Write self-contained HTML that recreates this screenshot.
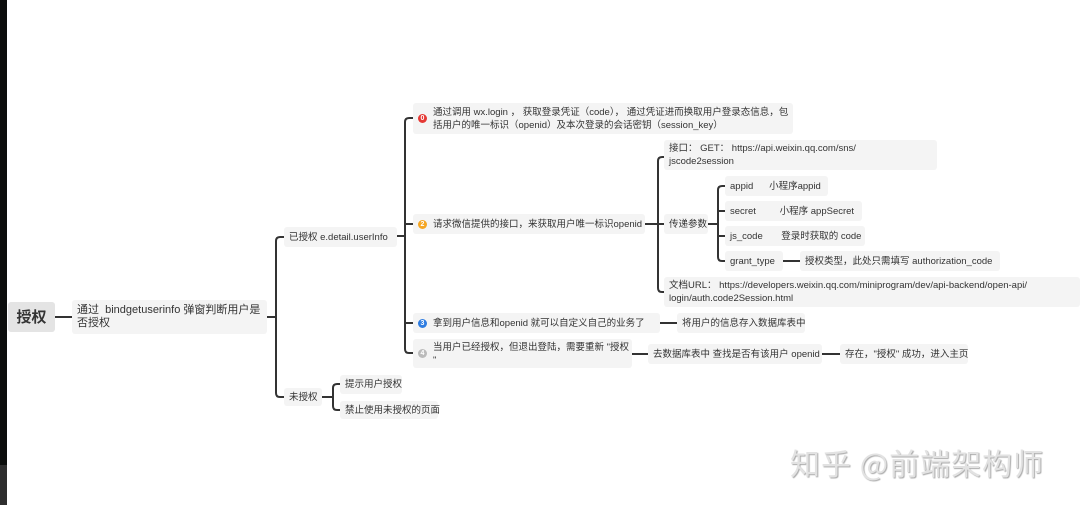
<!DOCTYPE html>
<html><head><meta charset="utf-8"><style>
body{margin:0;width:1080px;height:505px;overflow:hidden;background:#fff;position:relative;font-family:"Liberation Sans","Noto Sans CJK SC",sans-serif;color:#333}
.b{position:absolute;background:#f4f4f4;border-radius:3px;font-size:9.5px;line-height:13px;padding:0 5px;box-sizing:border-box;display:flex;align-items:center;white-space:nowrap}
.ic{display:inline-block;width:9px;height:9px;border-radius:50%;color:#fff;font-size:7px;line-height:9px;text-align:center;margin-right:6px;flex:none;font-weight:bold}
svg{position:absolute;left:0;top:0}
</style></head><body>
<div style="position:absolute;left:0;top:0;width:7px;height:465px;background:#0b0d0c"></div>
<div style="position:absolute;left:0;top:465px;width:7px;height:40px;background:#2e2e2e"></div>
<svg width="1080" height="505" fill="none" stroke="#333" stroke-width="2">
<path d="M55 317H72"/>
<path d="M267 317H276"/>
<path d="M284 237H280Q276 237 276 241V393Q276 397 280 397H284"/>
<path d="M397 236H405"/>
<path d="M413 118H409Q405 118 405 122V349Q405 353 409 353H413"/>
<path d="M405 224H413M405 323H413"/>
<path d="M322 397H333"/>
<path d="M340 384H337Q333 384 333 388V406Q333 410 337 410H340"/>
<path d="M645 224H664"/>
<path d="M664 157H662Q658 157 658 161V288Q658 292 662 292H664"/>
<path d="M708 224H718"/>
<path d="M725 186H722Q718 186 718 190V257Q718 261 722 261H725M718 211H725M718 236H725"/>
<path d="M783 261H800"/>
<path d="M660 323H677"/>
<path d="M632 354H648"/>
<path d="M822 354H840"/>
</svg>
<div class="b" style="left:8px;top:302px;width:47px;height:30px;background:#e4e4e4;font-size:15px;font-weight:bold;justify-content:center">授权</div>
<div class="b" style="left:72px;top:300px;width:195px;height:34px;font-size:11px;line-height:13px"><span>通过&nbsp; bindgetuserinfo 弹窗判断用户是<br>否授权</span></div>
<div class="b" style="left:284px;top:227px;width:113px;height:20px">已授权 e.detail.userInfo</div>
<div class="b" style="left:284px;top:388px;width:38px;height:18px">未授权</div>
<div class="b" style="left:340px;top:375px;width:62px;height:19px">提示用户授权</div>
<div class="b" style="left:340px;top:401px;width:98px;height:18px">禁止使用未授权的页面</div>
<div class="b" style="left:413px;top:103px;width:380px;height:31px"><span class="ic" style="background:#e53935">0</span><span>通过调用 wx.login ， 获取登录凭证（code）， 通过凭证进而换取用户登录态信息，包<br>括用户的唯一标识（openid）及本次登录的会话密钥（session_key）</span></div>
<div class="b" style="left:413px;top:214px;width:232px;height:20px"><span class="ic" style="background:#f5a623">2</span>请求微信提供的接口，来获取用户唯一标识openid</div>
<div class="b" style="left:413px;top:313px;width:247px;height:20px"><span class="ic" style="background:#2f7de1">3</span>拿到用户信息和openid 就可以自定义自己的业务了</div>
<div class="b" style="left:413px;top:339px;width:219px;height:29px"><span class="ic" style="background:#bbb">4</span><span>当用户已经授权，但退出登陆，需要重新 "授权<br>"</span></div>
<div class="b" style="left:664px;top:140px;width:273px;height:30px"><span>接口： GET： https://api.weixin.qq.com/sns/<br>jscode2session</span></div>
<div class="b" style="left:664px;top:214px;width:44px;height:20px">传递参数</div>
<div class="b" style="left:664px;top:277px;width:416px;height:30px"><span>文档URL： https://developers.weixin.qq.com/miniprogram/dev/api-backend/open-api/<br>login/auth.code2Session.html</span></div>
<div class="b" style="left:725px;top:176px;width:103px;height:20px">appid&nbsp;&nbsp;&nbsp;&nbsp;&nbsp; 小程序appid</div>
<div class="b" style="left:725px;top:201px;width:137px;height:20px">secret&nbsp;&nbsp;&nbsp;&nbsp;&nbsp;&nbsp;&nbsp;&nbsp; 小程序 appSecret</div>
<div class="b" style="left:725px;top:226px;width:140px;height:20px">js_code&nbsp;&nbsp;&nbsp;&nbsp;&nbsp;&nbsp; 登录时获取的 code</div>
<div class="b" style="left:725px;top:251px;width:58px;height:20px">grant_type</div>
<div class="b" style="left:800px;top:251px;width:200px;height:20px">授权类型，此处只需填写 authorization_code</div>
<div class="b" style="left:677px;top:313px;width:128px;height:20px">将用户的信息存入数据库表中</div>
<div class="b" style="left:648px;top:344px;width:174px;height:20px">去数据库表中 查找是否有该用户 openid</div>
<div class="b" style="left:840px;top:344px;width:128px;height:20px">存在，"授权" 成功，进入主页</div>
<div style="position:absolute;left:790px;top:440px;font-size:30px;letter-spacing:1px;color:#e2e2e2;text-shadow:1px 1px 1px #aaa;white-space:nowrap;font-family:'Noto Sans CJK SC',sans-serif">知乎 @前端架构师</div>
</body></html>
